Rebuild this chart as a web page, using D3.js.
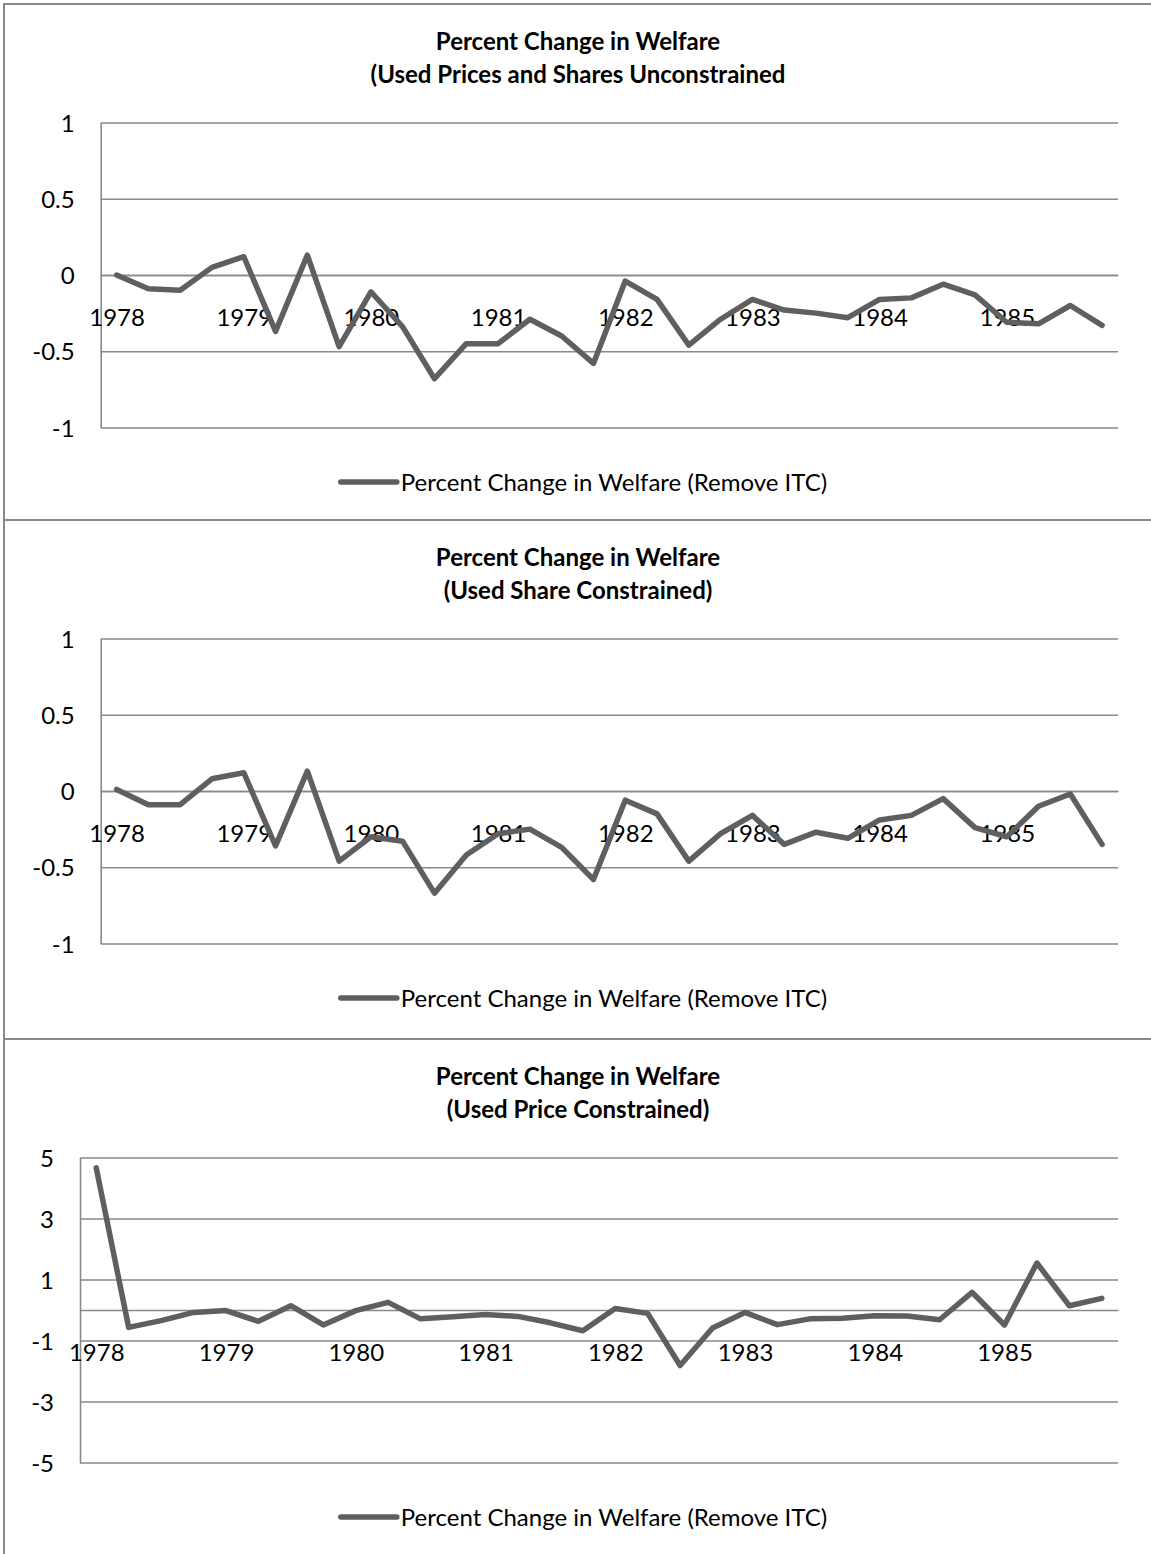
<!DOCTYPE html>
<html>
<head>
<meta charset="utf-8">
<script src="https://cdn.jsdelivr.net/npm/d3@7"></script>
<style>
  html, body { margin: 0; padding: 0; background: #fff; }
  svg { display: block; font-family: Lato, "Open Sans", sans-serif; }
</style>
</head>
<body>
<svg id="chart" width="1151" height="1554"></svg>
<script>
// Quarterly observations, 1978 Q1 – 1985 Q4
const years = ["1978", "1979", "1980", "1981", "1982", "1983", "1984", "1985"];
const quarters = ["Q1", "Q2", "Q3", "Q4"];
const categories = years.flatMap(y => quarters.map(q => `${y} ${q}`));

// Percent change in welfare when the ITC is removed
const unconstrained = [
  0.00, -0.09, -0.10, 0.05, 0.12, -0.37, 0.13, -0.47,
  -0.11, -0.34, -0.68, -0.45, -0.45, -0.29, -0.40, -0.58,
  -0.04, -0.16, -0.46, -0.29, -0.16, -0.23, -0.25, -0.28,
  -0.16, -0.15, -0.06, -0.13, -0.31, -0.32, -0.20, -0.33
];
const shareConstrained = [
  0.01, -0.09, -0.09, 0.08, 0.12, -0.36, 0.13, -0.46,
  -0.30, -0.33, -0.67, -0.42, -0.28, -0.25, -0.37, -0.58,
  -0.06, -0.15, -0.46, -0.28, -0.16, -0.35, -0.27, -0.31,
  -0.19, -0.16, -0.05, -0.24, -0.30, -0.10, -0.02, -0.35
];
const priceConstrained = [
  4.66, -0.57, -0.35, -0.08, -0.02, -0.37, 0.14, -0.49,
  -0.02, 0.25, -0.29, -0.22, -0.15, -0.21, -0.42, -0.68,
  0.05, -0.11, -1.82, -0.59, -0.08, -0.48, -0.29, -0.27,
  -0.19, -0.20, -0.32, 0.58, -0.49, 1.54, 0.14, 0.38
];

const ticksSmall = [1, 0.5, 0, -0.5, -1];
const ticksWide = [5, 3, 1, -1, -3, -5];

const titleLine1 = "Percent Change in Welfare";
const legendLabel = "Percent Change in Welfare (Remove ITC)";

const panels = [
  { sub: "(Used Prices and Shares Unconstrained", values: unconstrained,
    domain: [-1, 1], ticks: ticksSmall, top: 4, height: 516, plotLeft: 100.7 },
  { sub: "(Used Share Constrained)", values: shareConstrained,
    domain: [-1, 1], ticks: ticksSmall, top: 520, height: 519, plotLeft: 100.7 },
  { sub: "(Used Price Constrained)", values: priceConstrained,
    domain: [-5, 5], ticks: ticksWide, top: 1039, height: 516, plotLeft: 80 }
];

const svg = d3.select("#chart");
const chartLeft = 4, chartRight = 1152;
const centerX = (chartLeft + chartRight) / 2;
const plotRight = 1118;
const gridColor = "#898989";
const lineColor = "#5f5f5f";
const fontSize = 24;

panels.forEach(p => {
  const g = svg.append("g");

  // panel frame
  g.append("rect")
    .attr("x", chartLeft).attr("y", p.top)
    .attr("width", chartRight - chartLeft).attr("height", p.height)
    .attr("fill", "#fff").attr("stroke", gridColor).attr("stroke-width", 2);

  const plotTop = p.top + 118.5;
  const plotBottom = p.top + 423.5;

  const x = d3.scalePoint().domain(categories).range([p.plotLeft, plotRight]).padding(0.5);
  const y = d3.scaleLinear().domain(p.domain).range([plotBottom, plotTop]);

  // value axis with gridlines
  const yAxis = d3.axisLeft(y)
    .tickValues(p.ticks)
    .tickSize(-(plotRight - p.plotLeft))
    .tickSizeOuter(0)
    .tickPadding(26)
    .tickFormat(d => String(d));
  const yg = g.append("g").attr("transform", `translate(${p.plotLeft},0)`).call(yAxis);
  yg.selectAll(".tick line").attr("stroke", gridColor).attr("stroke-width", 1.6);
  yg.select(".domain").attr("stroke", gridColor).attr("stroke-width", 1.6);
  yg.selectAll(".tick text")
    .attr("fill", "#000").attr("font-size", fontSize)
    .attr("font-family", "Lato, 'Open Sans', sans-serif")
    .attr("dy", "0.36em");

  // category axis crossing at zero
  const xAxis = d3.axisBottom(x)
    .tickValues(categories.filter(c => c.endsWith("Q1")))
    .tickFormat(c => c.slice(0, 4))
    .tickSize(0)
    .tickSizeOuter(0)
    .tickPadding(34);
  const xg = g.append("g").attr("transform", `translate(0,${y(0)})`).call(xAxis);
  xg.select(".domain").attr("stroke", gridColor).attr("stroke-width", 1.6);
  xg.selectAll(".tick text")
    .attr("fill", "#000").attr("font-size", fontSize)
    .attr("font-family", "Lato, 'Open Sans', sans-serif");

  // series line
  const line = d3.line()
    .x((d, i) => x(categories[i]))
    .y(d => y(d));
  g.append("path")
    .datum(p.values)
    .attr("d", line)
    .attr("fill", "none")
    .attr("stroke", lineColor)
    .attr("stroke-width", 5.5)
    .attr("stroke-linejoin", "round")
    .attr("stroke-linecap", "round");

  // title
  const title = g.append("text")
    .attr("x", centerX)
    .attr("text-anchor", "middle")
    .attr("font-weight", "bold")
    .attr("font-size", fontSize)
    .attr("fill", "#000");
  title.append("tspan").attr("x", centerX).attr("y", p.top + 46).text(titleLine1);
  title.append("tspan").attr("x", centerX).attr("y", p.top + 79).text(p.sub);

  // legend
  const lg = g.append("g");
  const ly = p.top + 478;
  const swatch = 56, gap = 4;
  const lt = lg.append("text")
    .attr("font-size", fontSize).attr("fill", "#000")
    .attr("y", ly + 8.5)
    .text(legendLabel);
  const tw = lt.node().getComputedTextLength();
  const start = centerX + 6 - (swatch + gap + tw) / 2;
  lt.attr("x", start + swatch + gap);
  lg.append("line")
    .attr("x1", start).attr("x2", start + swatch)
    .attr("y1", ly).attr("y2", ly)
    .attr("stroke", lineColor).attr("stroke-width", 5.5)
    .attr("stroke-linecap", "round");
});
</script>
</body>
</html>
